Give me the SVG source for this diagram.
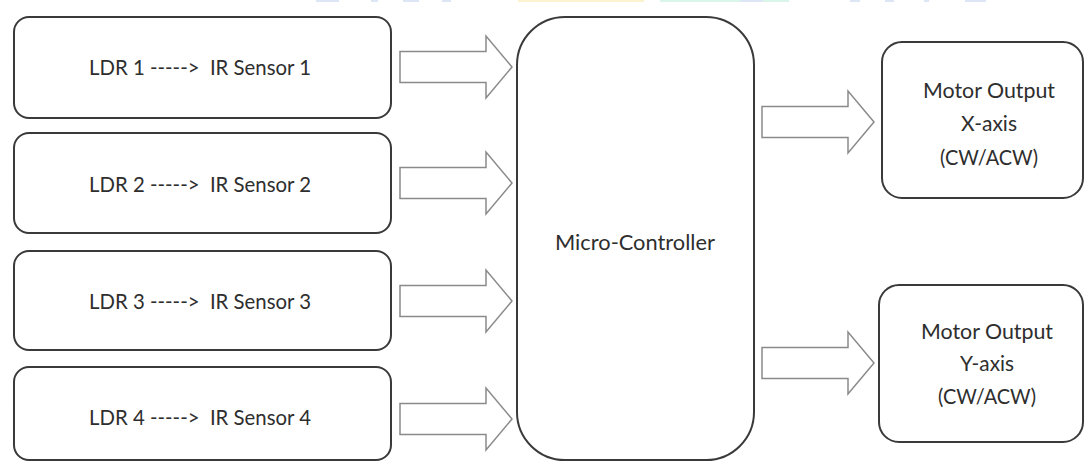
<svg xmlns="http://www.w3.org/2000/svg" width="1085" height="461" viewBox="0 0 1085 461">
  <style>
    .box { fill: #ffffff; stroke: #3a3a3a; stroke-width: 2; }
    .arrow { fill: #ffffff; stroke: #8a8a8a; stroke-width: 1.5; stroke-linejoin: miter; }
    .lbl { font-family: Lato, "Open Sans", "Liberation Sans", sans-serif; font-size: 21px; fill: #2e2e2e; text-anchor: middle; white-space: pre; }
    .wm { opacity: 0.25; }
  </style>
  <defs>
    <path id="blockArrow" d="M0,-15.5 H86 V-31 L112,0 L86,31 V15.5 H0 Z"/>
  </defs>
  <rect width="1085" height="461" fill="#ffffff"/>
  <g id="watermark" class="wm">
    <rect x="316" y="0" width="23" height="2" fill="#7aa0d8"/>
    <rect x="371" y="0" width="7" height="2" fill="#7aa0d8"/>
    <rect x="403" y="0" width="16" height="2" fill="#7aa0d8"/>
    <rect x="442" y="0" width="9" height="2" fill="#7aa0d8"/>
    <rect x="518" y="0" width="126" height="2" fill="#f0d040"/>
    <rect x="660" y="0" width="129" height="2" fill="#70d8b0"/>
    <rect x="740" y="0" width="23" height="2" fill="#7aa0d8"/>
    <rect x="850" y="0" width="10" height="2" fill="#7aa0d8"/>
    <rect x="885" y="0" width="9" height="2" fill="#7aa0d8"/>
    <rect x="924" y="0" width="5" height="2" fill="#7aa0d8"/>
    <rect x="965" y="0" width="21" height="2" fill="#7aa0d8"/>
  </g>
  <g id="connectors">
    <use href="#blockArrow" class="arrow" transform="translate(400,67)"/>
    <use href="#blockArrow" class="arrow" transform="translate(400,183)"/>
    <use href="#blockArrow" class="arrow" transform="translate(400,301)"/>
    <use href="#blockArrow" class="arrow" transform="translate(400,419)"/>
    <use href="#blockArrow" class="arrow" transform="translate(762,122)"/>
    <use href="#blockArrow" class="arrow" transform="translate(762,363)"/>
  </g>
  <g id="ldr1">
    <rect class="box" x="14" y="17" width="377" height="101" rx="15"/>
    <text class="lbl" x="200" y="75" textLength="222" lengthAdjust="spacingAndGlyphs">LDR 1 -----&gt;  IR Sensor 1</text>
  </g>
  <g id="ldr2">
    <rect class="box" x="14" y="133" width="377" height="100" rx="15"/>
    <text class="lbl" x="200" y="192" textLength="222" lengthAdjust="spacingAndGlyphs">LDR 2 -----&gt;  IR Sensor 2</text>
  </g>
  <g id="ldr3">
    <rect class="box" x="14" y="251" width="377" height="99" rx="15"/>
    <text class="lbl" x="200" y="309" textLength="222" lengthAdjust="spacingAndGlyphs">LDR 3 -----&gt;  IR Sensor 3</text>
  </g>
  <g id="ldr4">
    <rect class="box" x="14" y="367" width="377" height="93" rx="15"/>
    <text class="lbl" x="200" y="425" textLength="222" lengthAdjust="spacingAndGlyphs">LDR 4 -----&gt;  IR Sensor 4</text>
  </g>
  <g id="microcontroller">
    <rect class="box" x="517" y="17" width="237" height="443" rx="48"/>
    <text class="lbl" x="635" y="250" textLength="160" lengthAdjust="spacingAndGlyphs">Micro-Controller</text>
  </g>
  <g id="motorX">
    <rect class="box" x="882" y="42" width="201" height="156" rx="20"/>
    <text class="lbl" x="989" y="98" textLength="132" lengthAdjust="spacingAndGlyphs">Motor Output</text>
    <text class="lbl" x="989" y="131" textLength="56" lengthAdjust="spacingAndGlyphs">X-axis</text>
    <text class="lbl" x="989" y="165" textLength="98" lengthAdjust="spacingAndGlyphs">(CW/ACW)</text>
  </g>
  <g id="motorY">
    <rect class="box" x="879" y="285" width="204" height="157" rx="20"/>
    <text class="lbl" x="987" y="339" textLength="132" lengthAdjust="spacingAndGlyphs">Motor Output</text>
    <text class="lbl" x="987" y="371" textLength="54" lengthAdjust="spacingAndGlyphs">Y-axis</text>
    <text class="lbl" x="987" y="404" textLength="98" lengthAdjust="spacingAndGlyphs">(CW/ACW)</text>
  </g>
</svg>
